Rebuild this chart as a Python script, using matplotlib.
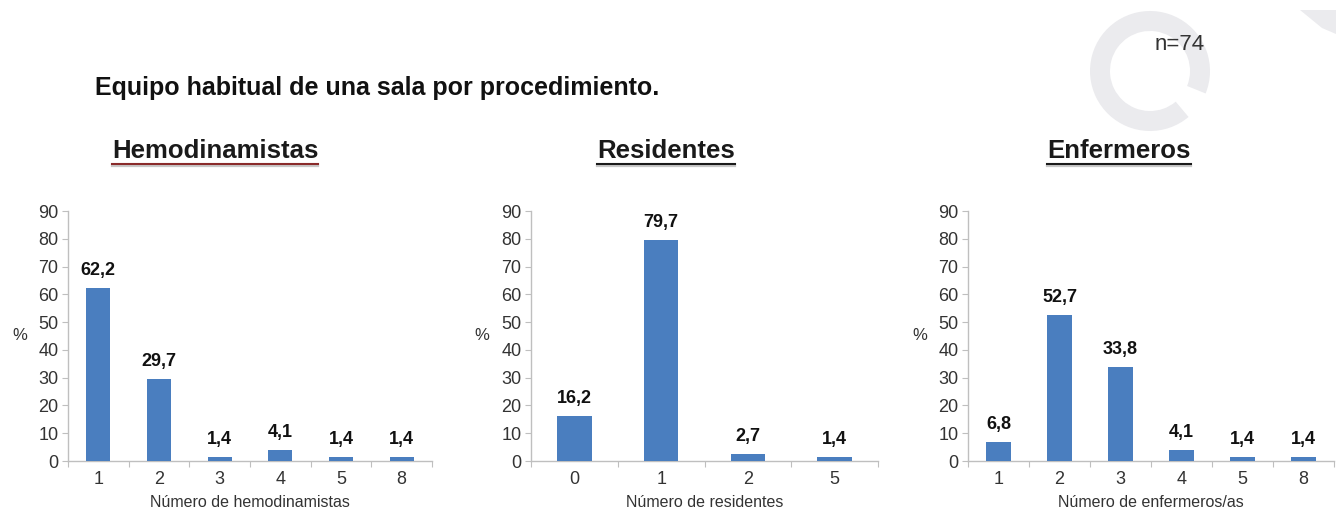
import matplotlib.pyplot as plt
import numpy as np
from matplotlib.patches import Wedge, Polygon
from matplotlib.lines import Line2D

plt.rcParams['font.family'] = ['Liberation Sans', 'DejaVu Sans']

# Datos: porcentaje de salas por número de profesionales (n=74)
hemo_cats = ['1', '2', '3', '4', '5', '8']
hemo_vals = [62.2, 29.7, 1.4, 4.1, 1.4, 1.4]

resid_cats = ['0', '1', '2', '5']
resid_vals = [16.2, 79.7, 2.7, 1.4]

enf_cats = ['1', '2', '3', '4', '5', '8']
enf_vals = [6.8, 52.7, 33.8, 4.1, 1.4, 1.4]

titles = ['Hemodinamistas', 'Residentes', 'Enfermeros']
xlabels = ['Número de hemodinamistas', 'Número de residentes', 'Número de enfermeros/as']

BAR = '#4a7ebf'
AXC = '#bfbfbf'
TXT = '#333333'

W, H = 1336, 515
fig = plt.figure(figsize=(W / 100, H / 100), dpi=100)

# logo de fondo
bg = fig.add_axes([0, 0, 1, 1], zorder=-5)
bg.set_xlim(0, W)
bg.set_ylim(H, 0)
bg.set_aspect('equal')
bg.axis('off')
bg.add_patch(Wedge((1150, 71), 60, 50, 382, width=20, color='#ebebee', lw=0))
bg.add_patch(Polygon([[1300, 10], [1336, 10], [1336, 34], [1322, 28]], closed=True,
                     color='#ebebee', lw=0))

# (categorías, valores, [x izquierda, ancho] en px, x del "%", centro del título)
panels = [
    (hemo_cats, hemo_vals, [68, 364], 20, 215),
    (resid_cats, resid_vals, [531, 347], 482, 666),
    (enf_cats, enf_vals, [968, 366], 920, 1119),
]

ax_bottom = 1 - 461 / H
ax_height = (461 - 211) / H

title_texts = []
for i, (cats, vals, (x0, w), pct_x, tx) in enumerate(panels):
    ax = fig.add_axes([x0 / W, ax_bottom, w / W, ax_height])
    pos = np.arange(len(cats))
    ax.bar(pos, vals, width=0.4, color=BAR, zorder=3)
    for p, v in zip(pos, vals):
        ax.text(p, v + 3.2, f'{v:.1f}'.replace('.', ','), ha='center', va='bottom',
                fontsize=13, fontweight='bold', color='#111111')
    ax.set_xlim(-0.5, len(cats) - 0.5)
    ax.set_ylim(0, 90)
    ax.set_yticks(range(0, 91, 10))
    ax.set_xticks(pos)
    ax.set_xticklabels(cats)
    ax.set_xticks(np.arange(-0.5, len(cats), 1.0), minor=True)
    for s in ['top', 'right']:
        ax.spines[s].set_visible(False)
    for s in ['left', 'bottom']:
        ax.spines[s].set_color(AXC)
        ax.spines[s].set_linewidth(1.0)
    ax.tick_params(axis='y', colors=AXC, labelcolor=TXT, labelsize=13, length=4, width=0.8, pad=3)
    ax.tick_params(axis='x', which='major', length=0, labelcolor=TXT, labelsize=13, pad=7)
    ax.tick_params(axis='x', which='minor', length=4, color=AXC, width=0.8)
    ax.set_xlabel(xlabels[i], fontsize=11.5, color=TXT, labelpad=5)
    ax.set_facecolor('none')
    fig.text(pct_x / W, 1 - 336 / H, '%', fontsize=12, color=TXT, ha='center', va='center')
    t = fig.text(tx / W, 1 - 151 / H, titles[i], fontsize=18.5, fontweight='bold',
                 color='#1a1a1a', ha='center', va='center')
    title_texts.append(t)

fig.text(95 / W, 1 - 88 / H, 'Equipo habitual de una sala por procedimiento.',
         fontsize=18, fontweight='bold', color='#111111', ha='left', va='center')
fig.text(1180 / W, 1 - 45 / H, 'n=74', fontsize=16, color=TXT, ha='center', va='center')

# subrayado de los títulos
fig.canvas.draw()
r = fig.canvas.get_renderer()
for i, t in enumerate(title_texts):
    bb = t.get_window_extent(r)
    y = bb.y0 - 1
    col = '#8a2b2b' if i == 0 else '#1a1a1a'
    fig.add_artist(Line2D([bb.x0 / W, bb.x1 / W], [(y - 2) / H, (y - 2) / H],
                          color='#c8c8c8', lw=1.6))
    fig.add_artist(Line2D([bb.x0 / W, bb.x1 / W], [y / H, y / H], color=col, lw=1.5))

fig.savefig('out.png', dpi=100)
